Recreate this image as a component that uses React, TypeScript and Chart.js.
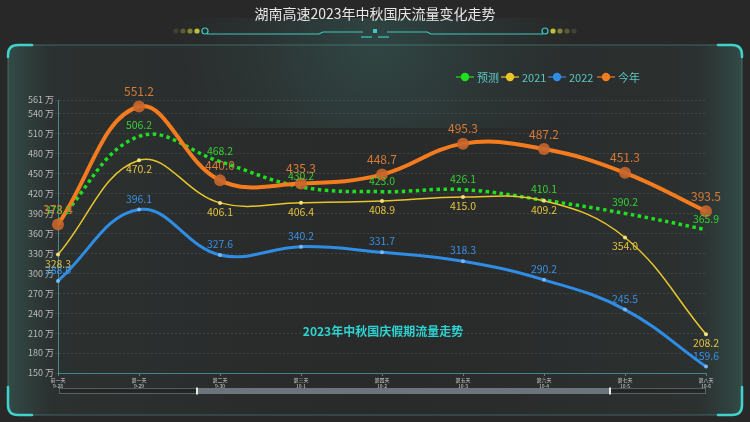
import React, { useEffect, useRef } from 'react';
import { Chart, registerables } from 'chart.js';

Chart.register(...registerables);

const FONT = '"Noto Sans CJK SC", "DejaVu Sans", sans-serif';

const title = '湖南高速2023年中秋国庆流量变化走势';
const subTitle = '2023年中秋国庆假期流量走势';

const categories: string[][] = [
  ['前一天', '9-28'],
  ['第一天', '9-29'],
  ['第二天', '9-30'],
  ['第三天', '10-1'],
  ['第四天', '10-2'],
  ['第五天', '10-3'],
  ['第六天', '10-4'],
  ['第七天', '10-5'],
  ['第八天', '10-6'],
];

const seriesNames = ['预测', '2021', '2022', '今年'];
const forecast = [378.2, 506.2, 468.2, 430.2, 423.0, 426.1, 410.1, 390.2, 365.9];
const y2021 = [328.3, 470.2, 406.1, 406.4, 408.9, 415.0, 409.2, 354.0, 208.2];
const y2022 = [288.6, 396.1, 327.6, 340.2, 331.7, 318.3, 290.2, 245.5, 159.6];
const thisYear = [373.4, 551.2, 440.0, 435.3, 448.7, 495.3, 487.2, 451.3, 393.5];

const yTicks = [150, 180, 210, 240, 270, 300, 330, 360, 390, 420, 450, 480, 510, 540, 561];
const yMin = 150;
const yMax = 561;

const colors = {
  forecast: '#1fe01f',
  y2021: '#e9c62b',
  y2022: '#2f8de6',
  thisYear: '#f47b1e',
};
const labelColors = ['#34d034', '#e2c23e', '#3a8fe2', '#d97a36'];
const labelOffsets = [-11, 9, -11, -15];
const labelSizes = [10.5, 10.5, 10.5, 12];

function roundRectPath(ctx: CanvasRenderingContext2D, x0: number, y0: number, x1: number, y1: number, r: number) {
  ctx.beginPath();
  ctx.moveTo(x0 + r, y0);
  ctx.lineTo(x1 - r, y0);
  ctx.quadraticCurveTo(x1, y0, x1, y0 + r);
  ctx.lineTo(x1, y1 - r);
  ctx.quadraticCurveTo(x1, y1, x1 - r, y1);
  ctx.lineTo(x0 + r, y1);
  ctx.quadraticCurveTo(x0, y1, x0, y1 - r);
  ctx.lineTo(x0, y0 + r);
  ctx.quadraticCurveTo(x0, y0, x0 + r, y0);
  ctx.closePath();
}

const bgPlugin = {
  id: 'bgDecor',
  beforeDraw(chart: any) {
    const ctx: CanvasRenderingContext2D = chart.ctx;
    const W = chart.width;
    const H = chart.height;
    ctx.save();
    ctx.fillStyle = '#282828';
    ctx.fillRect(0, 0, W, H);

    const x0 = 8, y0 = 45, x1 = 742, y1 = 415, r = 10;
    // panel fill
    const g = ctx.createLinearGradient(x0, 0, x1, 0);
    g.addColorStop(0, 'rgba(60,110,102,0.5)');
    g.addColorStop(0.06, 'rgba(48,62,60,0.4)');
    g.addColorStop(0.5, 'rgba(44,46,46,0.3)');
    g.addColorStop(0.94, 'rgba(48,62,60,0.4)');
    g.addColorStop(1, 'rgba(60,110,102,0.5)');
    roundRectPath(ctx, x0, y0, x1, y1, r);
    ctx.fillStyle = g;
    ctx.fill();
    // top glow
    ctx.save();
    ctx.beginPath();
    ctx.rect(0, 18, W, 110);
    ctx.clip();
    const rg = ctx.createRadialGradient(375, 42, 2, 375, 42, 200);
    rg.addColorStop(0, 'rgba(70,170,160,0.22)');
    rg.addColorStop(0.6, 'rgba(70,170,160,0.07)');
    rg.addColorStop(1, 'rgba(70,170,160,0)');
    ctx.fillStyle = rg;
    ctx.fillRect(0, 18, W, 110);
    ctx.restore();

    // frame
    ctx.strokeStyle = 'rgba(80,150,145,0.55)';
    ctx.lineWidth = 1;
    roundRectPath(ctx, x0, y0, x1, y1, r);
    ctx.stroke();

    // corner accents
    ctx.strokeStyle = '#3fd3cc';
    ctx.lineWidth = 2.5;
    ctx.lineCap = 'round';
    const L = 24;
    ctx.beginPath();
    ctx.moveTo(x0, y0 + 12);
    ctx.lineTo(x0, y0 + r);
    ctx.quadraticCurveTo(x0, y0, x0 + r, y0);
    ctx.lineTo(x0 + L, y0);
    ctx.stroke();
    ctx.beginPath();
    ctx.moveTo(x1 - L, y0);
    ctx.lineTo(x1 - r, y0);
    ctx.quadraticCurveTo(x1, y0, x1, y0 + r);
    ctx.lineTo(x1, y0 + 12);
    ctx.stroke();
    ctx.beginPath();
    ctx.moveTo(x0, y1 - 28);
    ctx.lineTo(x0, y1 - r);
    ctx.quadraticCurveTo(x0, y1, x0 + r, y1);
    ctx.lineTo(x0 + L, y1);
    ctx.stroke();
    ctx.beginPath();
    ctx.moveTo(x1, y1 - 28);
    ctx.lineTo(x1, y1 - r);
    ctx.quadraticCurveTo(x1, y1, x1 - r, y1);
    ctx.lineTo(x1 - L, y1);
    ctx.stroke();

    // title
    ctx.fillStyle = '#e6e6e6';
    ctx.font = `14px ${FONT}`;
    ctx.textAlign = 'center';
    ctx.textBaseline = 'middle';
    ctx.fillText(title, 375, 14);

    // title decoration
    ctx.lineCap = 'butt';
    ctx.lineWidth = 1.2;
    ctx.strokeStyle = '#3cc8c2';
    const drawSide = (s: number) => {
      const X = (d: number) => 375 + s * d;
      ctx.beginPath();
      ctx.moveTo(X(168), 34);
      ctx.lineTo(X(56), 34);
      ctx.lineTo(X(52), 32);
      ctx.lineTo(X(12), 32);
      ctx.stroke();
      ctx.beginPath();
      ctx.moveTo(X(14), 37);
      ctx.lineTo(X(3), 37);
      ctx.stroke();
      ctx.beginPath();
      ctx.arc(X(170), 31, 3, 0, Math.PI * 2);
      ctx.stroke();
      const dotCols = ['rgba(200,200,60,0.95)', 'rgba(170,170,60,0.7)', 'rgba(140,140,70,0.5)', 'rgba(110,110,80,0.35)'];
      for (let i = 0; i < 4; i++) {
        ctx.fillStyle = dotCols[i];
        ctx.beginPath();
        ctx.arc(X(178 + i * 7), 31, 2.6, 0, Math.PI * 2);
        ctx.fill();
      }
    };
    drawSide(-1);
    drawSide(1);
    ctx.fillStyle = '#3cc8c2';
    ctx.fillRect(373, 29, 4, 4);
    ctx.restore();
  },
  afterDatasetsDraw(chart: any) {
    const ctx: CanvasRenderingContext2D = chart.ctx;
    ctx.save();
    ctx.textAlign = 'center';
    ctx.textBaseline = 'middle';
    chart.data.datasets.forEach((ds: any, i: number) => {
      const meta = chart.getDatasetMeta(i);
      ctx.fillStyle = labelColors[i];
      ctx.font = `${labelSizes[i]}px ${FONT}`;
      meta.data.forEach((pt: any, j: number) => {
        const v = ds.data[j] as number;
        ctx.fillText(v.toFixed(1), pt.x, pt.y + labelOffsets[i]);
      });
    });
    ctx.fillStyle = '#2ed2d0';
    ctx.font = `bold 12px ${FONT}`;
    ctx.fillText(subTitle, 383, 331);
    ctx.restore();
  },
  afterDraw(chart: any) {
    const ctx: CanvasRenderingContext2D = chart.ctx;
    const area = chart.chartArea;
    ctx.save();
    const items = [
      { x: 465, c: colors.forecast, t: seriesNames[0] },
      { x: 510, c: colors.y2021, t: seriesNames[1] },
      { x: 557, c: colors.y2022, t: seriesNames[2] },
      { x: 606, c: colors.thisYear, t: seriesNames[3] },
    ];
    ctx.font = `11px ${FONT}`;
    ctx.textAlign = 'left';
    ctx.textBaseline = 'middle';
    const ly = 77;
    items.forEach((it) => {
      ctx.strokeStyle = it.c;
      ctx.lineWidth = 1.2;
      ctx.beginPath();
      ctx.moveTo(it.x - 9, ly);
      ctx.lineTo(it.x + 9, ly);
      ctx.stroke();
      ctx.fillStyle = it.c;
      ctx.beginPath();
      ctx.arc(it.x, ly, 4.2, 0, Math.PI * 2);
      ctx.fill();
      ctx.fillStyle = '#5cc8c2';
      ctx.fillText(it.t, it.x + 12, ly + 0.5);
    });
    const sx0 = area.left + 1, sx1 = area.right - 1;
    const sy = 388, sh = 5;
    ctx.fillStyle = 'rgba(20,24,24,0.35)';
    ctx.fillRect(sx0, sy, sx1 - sx0, sh);
    ctx.strokeStyle = 'rgba(150,160,160,0.45)';
    ctx.lineWidth = 1;
    ctx.strokeRect(sx0 + 0.5, sy + 0.5, sx1 - sx0, sh);
    const a = 197, b = 610;
    ctx.fillStyle = '#6c757b';
    ctx.fillRect(a, sy, b - a, sh + 1);
    ctx.fillStyle = '#e8e8e8';
    ctx.fillRect(a - 1, sy - 0.5, 2, sh + 2);
    ctx.fillRect(b - 1, sy - 0.5, 2, sh + 2);
    ctx.restore();
  },
};

export default function App() {
  const ref = useRef<HTMLCanvasElement | null>(null);
  useEffect(() => {
    if (!ref.current) return;
    const chart = new Chart(ref.current, {
      type: 'line',
      data: {
        labels: categories,
        datasets: [
          {
            label: seriesNames[0],
            data: forecast,
            borderColor: colors.forecast,
            backgroundColor: colors.forecast,
            borderWidth: 3.5,
            borderDash: [3.5, 3.5],
            tension: 0.4,
            pointRadius: 0,
            fill: false,
            order: 3,
          },
          {
            label: seriesNames[1],
            data: y2021,
            borderColor: colors.y2021,
            backgroundColor: '#f3e27a',
            borderWidth: 1.5,
            tension: 0.4,
            pointRadius: 2,
            pointBorderWidth: 0,
            fill: false,
            order: 2,
          },
          {
            label: seriesNames[2],
            data: y2022,
            borderColor: colors.y2022,
            backgroundColor: '#7cb8f0',
            borderWidth: 3,
            tension: 0.4,
            pointRadius: 2,
            pointBorderWidth: 0,
            fill: false,
            order: 1,
          },
          {
            label: seriesNames[3],
            data: thisYear,
            borderColor: colors.thisYear,
            backgroundColor: 'rgba(200,102,44,0.9)',
            borderWidth: 4,
            tension: 0.4,
            pointRadius: 6,
            pointBorderWidth: 0,
            fill: false,
            order: 0,
          },
        ],
      },
      plugins: [bgPlugin],
      options: {
        responsive: false,
        devicePixelRatio: 1,
        animation: false,
        layout: { padding: { left: 0, right: 44, top: 100, bottom: 0 } },
        plugins: {
          legend: { display: false },
          title: { display: false },
          tooltip: { enabled: false },
        },
        scales: {
          x: {
            type: 'category',
            offset: false,
            grid: {
              drawOnChartArea: false,
              drawTicks: true,
              tickLength: 3,
              color: 'rgba(90,170,170,0.7)',
            },
            border: { color: 'rgba(70,160,160,0.75)', width: 1 },
            ticks: {
              color: '#d0d0d0',
              font: { size: 5, family: FONT },
              padding: 1,
              maxRotation: 0,
              autoSkip: false,
            },
            afterFit: (scale: any) => {
              scale.height = 49;
            },
          },
          y: {
            type: 'linear',
            min: yMin,
            max: yMax,
            afterBuildTicks: (scale: any) => {
              scale.ticks = yTicks.map((v) => ({ value: v }));
            },
            afterFit: (scale: any) => {
              scale.width = 58;
            },
            grid: {
              color: 'rgba(255,255,255,0.10)',
              tickLength: 3,
              drawTicks: true,
            },
            border: { color: 'rgba(80,160,170,0.8)', width: 1, dash: [2, 2] },
            ticks: {
              color: '#b9b9b9',
              font: { size: 9, family: FONT },
              padding: 1,
              callback: (v: any) => `${v} 万`,
            },
          },
        },
      },
    });
    return () => chart.destroy();
  }, []);
  return (
    <div style={{ position: 'absolute', left: 0, top: 0, width: 750, height: 422 }}>
      <canvas ref={ref} width={750} height={422} style={{ width: 750, height: 422, display: 'block' }} />
    </div>
  );
}
